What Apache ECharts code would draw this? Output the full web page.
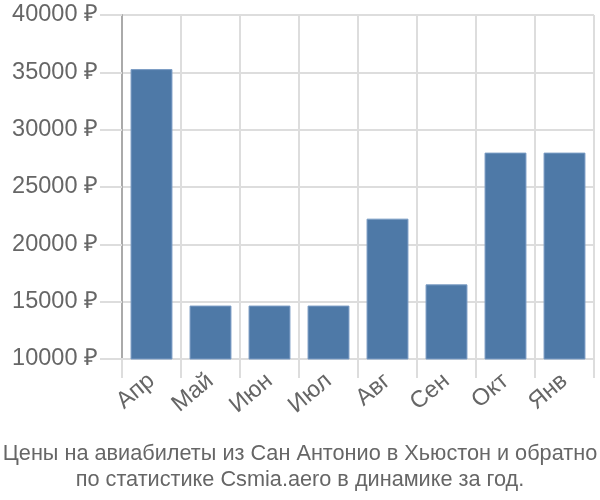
<!DOCTYPE html>
<html><head><meta charset="utf-8">
<script src="https://cdn.jsdelivr.net/npm/echarts@6/dist/echarts.min.js"></script>
<style>html,body{margin:0;padding:0;background:#fff}#c{width:600px;height:500px}</style>
</head><body><div id="c"></div>
<script>
const categories = ["Апр","Май","Июн","Июл","Авг","Сен","Окт","Янв"];
const prices = [35280, 14660, 14660, 14660, 22240, 16510, 28000, 28000];
const yMin = 10000, yMax = 40000, yStep = 5000;
const titleLines = ["Цены на авиабилеты из Сан Антонио в Хьюстон и обратно","по статистике Csmia.aero в динамике за год."];

const chart = echarts.init(document.getElementById('c'), null, {renderer:'canvas'});
chart.setOption({
  animation:false,
  textStyle:{fontFamily:'Liberation Sans'},
  grid:{left:122, right:6, top:15, bottom:141},
  title:{text:titleLines.join('\n'), left:'center', top:436,
    textStyle:{fontFamily:'Liberation Sans', fontSize:21.7, fontWeight:'normal', color:'#666', lineHeight:26}},
  xAxis:{type:'category', data:categories,
    axisLine:{show:true, lineStyle:{color:'#ddd', width:2}},
    axisTick:{show:true, length:19, interval:0, lineStyle:{color:'#ddd', width:2}},
    splitLine:{show:true, interval:0, lineStyle:{color:'#ddd', width:2}},
    axisLabel:{rotate:40, fontSize:23.5, color:'#666', margin:19, interval:0}},
  yAxis:{type:'value', min:yMin, max:yMax, interval:yStep,
    axisLine:{show:true, lineStyle:{color:'#aaa', width:2}},
    axisTick:{show:true, length:22, lineStyle:{color:'#ddd', width:2}},
    splitLine:{show:true, lineStyle:{color:'#ddd', width:2}},
    axisLabel:{fontSize:23.5, color:'#666', margin:24, formatter:v=>v+' ₽'}},
  series:[{type:'bar', data:prices, barCategoryGap:'29%',
    itemStyle:{color:'#4e79a7', borderColor:'#7a9cc4', borderWidth:1}}]
});
</script></body></html>
